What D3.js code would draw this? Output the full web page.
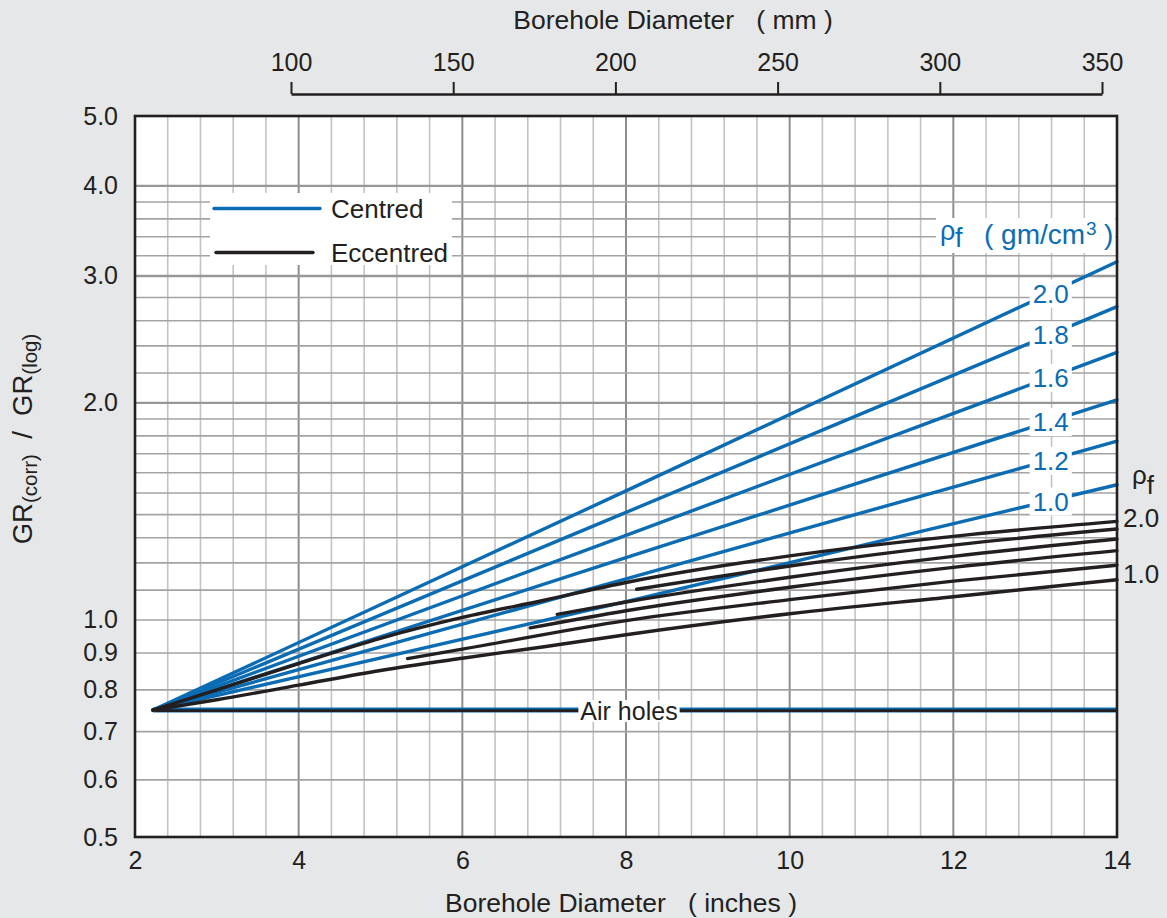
<!DOCTYPE html>
<html>
<head>
<meta charset="utf-8">
<script src="https://cdn.jsdelivr.net/npm/d3@7/dist/d3.min.js"></script>
<style>
  html, body { margin: 0; padding: 0; background: #e6e7e8; }
  svg { display: block; font-family: "Liberation Sans", Arial, Helvetica, sans-serif; }
</style>
</head>
<body>
<svg id="chart" width="1167" height="918"></svg>
<script>
// ---------- data ----------
const xTicks = [2, 4, 6, 8, 10, 12, 14];
const yTicks = [0.5, 0.6, 0.7, 0.8, 0.9, 1.0, 2.0, 3.0, 4.0, 5.0];
const mmTicks = [100, 150, 200, 250, 300, 350];
const yGridMinor = [0.6, 0.7, 0.8, 0.9, 1.0, 1.1, 1.2, 1.3, 1.4, 1.5, 1.6, 1.7, 1.8, 1.9,
                    2.2, 2.4, 2.6, 2.8, 3.2, 3.4, 3.6, 3.8];
const yGridMajor = [2.0, 3.0, 4.0];

// Centred (blue) curves, rho_f labels
const centredLabels = ["2.0", "1.8", "1.6", "1.4", "1.2", "1.0"];
const centredX = [2.22, 8, 14];
const centred20 = [0.75, 1.51, 3.14];
const centred18 = [0.75, 1.41, 2.72];
const centred16 = [0.75, 1.31, 2.35];
const centred14 = [0.75, 1.22, 2.02];
const centred12 = [0.75, 1.14, 1.77];
const centred10 = [0.75, 1.06, 1.54];

// Eccentred (black) curves
const eccAx = [2.22, 3, 4, 5, 6, 7, 8, 10, 12, 14];
const eccAy = [0.75, 0.80, 0.87, 0.943, 1.008, 1.065, 1.127, 1.227, 1.306, 1.37];
const eccEx = [8.13, 10, 12, 14];
const eccEy = [1.103, 1.188, 1.27, 1.337];
const eccDx = [7.16, 8, 10, 12, 14];
const eccDy = [1.018, 1.059, 1.146, 1.225, 1.295];
const eccCx = [6.83, 8, 10, 12, 14];
const eccCy = [0.975, 1.03, 1.11, 1.183, 1.248];
const eccBx = [5.33, 6, 8, 10, 12, 14];
const eccBy = [0.884, 0.911, 0.998, 1.067, 1.132, 1.191];
const eccFx = [2.22, 3, 4, 5, 6, 7, 8, 10, 12, 14];
const eccFy = [0.75, 0.775, 0.812, 0.851, 0.885, 0.918, 0.954, 1.02, 1.077, 1.137];

// Air holes
const airX = [2.22, 14];
const airY = [0.75, 0.75];

// ---------- setup ----------
const BLUE = "#0b6cb4", INK = "#231f20";
const svg = d3.select("#chart");
const pLeft = 135, pRight = 1117, pTop = 116, pBottom = 837;
const x = d3.scaleLinear().domain([2, 14]).range([pLeft, pRight]);
const y = d3.scaleLog().domain([0.5, 5]).range([pBottom, pTop]);
const xmm = d3.scaleLinear().domain([100, 350]).range([291, 1102]);

// plot background
svg.append("rect").attr("x", pLeft).attr("y", pTop).attr("width", pRight - pLeft).attr("height", pBottom - pTop).attr("fill", "#fff");

// grid
const g = svg.append("g");
const xGrid = d3.range(0, 31).map(i => 2 + i * 0.4);
const isMajorX = d => Math.abs(d - Math.round(d)) < 1e-6 && Math.round(d) % 2 === 0;
g.selectAll(".vg").data(xGrid).join("line")
  .attr("x1", d => x(d)).attr("x2", d => x(d)).attr("y1", pTop).attr("y2", pBottom)
  .attr("stroke", d => isMajorX(d) ? "#8e8e8e" : "#c3c3c3")
  .attr("stroke-width", d => isMajorX(d) ? 2 : 1.6);
g.selectAll(".hg").data(yGridMinor).join("line")
  .attr("x1", pLeft).attr("x2", pRight).attr("y1", d => y(d)).attr("y2", d => y(d))
  .attr("stroke", "#a3a3a3").attr("stroke-width", 1.6);
g.selectAll(".hgm").data(yGridMajor).join("line")
  .attr("x1", pLeft).attr("x2", pRight).attr("y1", d => y(d)).attr("y2", d => y(d))
  .attr("stroke", "#979797").attr("stroke-width", 2.4);

// lines
const lineGen = d3.line().x(d => x(d[0])).y(d => y(d[1]));
const curveGen = d3.line().x(d => x(d[0])).y(d => y(d[1])).curve(d3.curveMonotoneX);
const zip = (a, b) => a.map((v, i) => [v, b[i]]);

const centred = [centred20, centred18, centred16, centred14, centred12, centred10];
const ecc = [[eccAx, eccAy], [eccEx, eccEy], [eccDx, eccDy], [eccCx, eccCy], [eccBx, eccBy], [eccFx, eccFy]];

// air holes
svg.append("path").attr("d", lineGen(zip(airX, airY))).attr("stroke", BLUE).attr("stroke-width", 5).attr("fill", "none");
svg.append("path").attr("d", lineGen(zip(airX, airY))).attr("stroke", INK).attr("stroke-width", 2.6).attr("fill", "none")
  .attr("transform", "translate(0,0.6)");

centred.forEach(vals => {
  svg.append("path").attr("d", lineGen(zip(centredX, vals)))
    .attr("stroke", BLUE).attr("stroke-width", 3.4).attr("fill", "none").attr("stroke-linecap", "round");
});
ecc.forEach(([xs, ys]) => {
  svg.append("path").attr("d", curveGen(zip(xs, ys)))
    .attr("stroke", INK).attr("stroke-width", 3.4).attr("fill", "none").attr("stroke-linecap", "round");
});

// helper: pixel y of polyline at x value
function yAt(xs, ys, xv) {
  for (let i = 0; i < xs.length - 1; i++) {
    if (xv >= xs[i] && xv <= xs[i + 1]) {
      const t = (x(xv) - x(xs[i])) / (x(xs[i + 1]) - x(xs[i]));
      return y(ys[i]) + t * (y(ys[i + 1]) - y(ys[i]));
    }
  }
  return y(ys[ys.length - 1]);
}

// knockout label helper
function knockLabel(parent, tx, ty, text, color, size, padX, padY) {
  const grp = parent.append("g");
  const rect = grp.append("rect").attr("fill", "#fff");
  const t = grp.append("text").attr("x", tx).attr("y", ty).attr("text-anchor", "middle")
    .attr("dominant-baseline", "central").attr("font-size", size).attr("fill", color).text(text);
  const bb = t.node().getBBox();
  rect.attr("x", bb.x - padX).attr("y", bb.y + padY).attr("width", bb.width + 2 * padX).attr("height", bb.height - 2 * padY);
  return grp;
}

// blue labels on lines
const labelX = 13.19;
centred.forEach((vals, i) => {
  knockLabel(svg, x(labelX), yAt(centredX, vals, labelX) + 1, centredLabels[i], BLUE, 26, 3, 1);
});

// Air holes label
knockLabel(svg, 629, y(0.75) + 1, "Air holes", INK, 25, 2, 3);

// rho_f (gm/cm3) label, blue
{
  const grp = svg.append("g");
  const rect = grp.append("rect").attr("fill", "#fff");
  const t = grp.append("text").attr("font-size", 27).attr("fill", BLUE);
  t.append("tspan").attr("x", 940).attr("y", 240).text("ρ");
  t.append("tspan").attr("x", 955).attr("y", 247).text("f");
  t.append("tspan").attr("x", 984).attr("y", 244).attr("xml:space", "preserve").attr("font-size", 28).text("( gm/cm");
  t.append("tspan").attr("dy", -9).attr("dx", 1).attr("font-size", 19).text("3");
  t.append("tspan").attr("x", 1104).attr("y", 244).attr("font-size", 28).text(")");
  const bb = t.node().getBBox();
  rect.attr("x", bb.x - 4).attr("y", bb.y + 2).attr("width", bb.width + 6).attr("height", bb.height - 2);
}

// legend
{
  const lg = svg.append("g");
  lg.append("rect").attr("x", 210).attr("y", 193).attr("width", 242).attr("height", 72).attr("fill", "#fff");
  lg.append("line").attr("x1", 214).attr("x2", 320).attr("y1", 208.5).attr("y2", 208.5).attr("stroke", BLUE).attr("stroke-width", 3.4).attr("stroke-linecap", "round");
  lg.append("line").attr("x1", 216).attr("x2", 313).attr("y1", 252.5).attr("y2", 252.5).attr("stroke", INK).attr("stroke-width", 3.4).attr("stroke-linecap", "round");
  lg.append("text").attr("x", 331).attr("y", 218).attr("font-size", 26).attr("fill", INK).text("Centred");
  lg.append("text").attr("x", 331).attr("y", 262).attr("font-size", 26).attr("fill", INK).text("Eccentred");
}

// frame
svg.append("rect").attr("x", pLeft).attr("y", pTop).attr("width", pRight - pLeft).attr("height", pBottom - pTop)
  .attr("fill", "none").attr("stroke", INK).attr("stroke-width", 2.6);

// axes
const axL = svg.append("g").attr("transform", `translate(${pLeft},0)`)
  .call(d3.axisLeft(y).tickValues(yTicks).tickFormat(d3.format(".1f")).tickSize(0).tickPadding(17));
axL.select(".domain").remove();
axL.selectAll("text").attr("font-size", 25).attr("fill", INK).attr("font-family", null);

const axB = svg.append("g").attr("transform", `translate(0,${pBottom})`)
  .call(d3.axisBottom(x).tickValues(xTicks).tickFormat(d3.format("d")).tickSize(0).tickPadding(14));
axB.select(".domain").remove();
axB.selectAll("text").attr("font-size", 25).attr("fill", INK).attr("font-family", null);

const axT = svg.append("g").attr("transform", "translate(0,94)")
  .call(d3.axisTop(xmm).tickValues(mmTicks).tickFormat(d3.format("d")).tickSize(12).tickSizeOuter(0).tickPadding(11));
axT.select(".domain").attr("stroke", INK).attr("stroke-width", 2.6);
axT.selectAll(".tick line").attr("stroke", INK).attr("stroke-width", 2);
axT.selectAll("text").attr("font-size", 25).attr("fill", INK).attr("font-family", null);

// titles
svg.append("text").attr("x", 673).attr("y", 29).attr("text-anchor", "middle").attr("font-size", 26.5).attr("fill", INK)
  .attr("xml:space", "preserve").text("Borehole Diameter   ( mm )");
svg.append("text").attr("x", 621).attr("y", 912).attr("text-anchor", "middle").attr("font-size", 26.5).attr("fill", INK)
  .attr("xml:space", "preserve").text("Borehole Diameter   ( inches )");
{
  const t = svg.append("text").attr("transform", "translate(32,439) rotate(-90)").attr("text-anchor", "middle")
    .attr("font-size", 27.5).attr("fill", INK).attr("xml:space", "preserve");
  t.append("tspan").text("GR");
  t.append("tspan").attr("font-size", 20.5).attr("dy", 5).text("(corr)");
  t.append("tspan").attr("dy", -5).text("  /  GR");
  t.append("tspan").attr("font-size", 20.5).attr("dy", 5).text("(log)");
}

// right-side black labels
{
  const t = svg.append("text").attr("x", 1132).attr("y", 484).attr("font-size", 26).attr("fill", INK);
  t.append("tspan").text("ρ");
  t.append("tspan").attr("dy", 10).text("f");
  svg.append("text").attr("x", 1123).attr("y", 527).attr("font-size", 26).attr("fill", INK).text("2.0");
  svg.append("text").attr("x", 1123).attr("y", 583).attr("font-size", 26).attr("fill", INK).text("1.0");
}
</script>
</body>
</html>
